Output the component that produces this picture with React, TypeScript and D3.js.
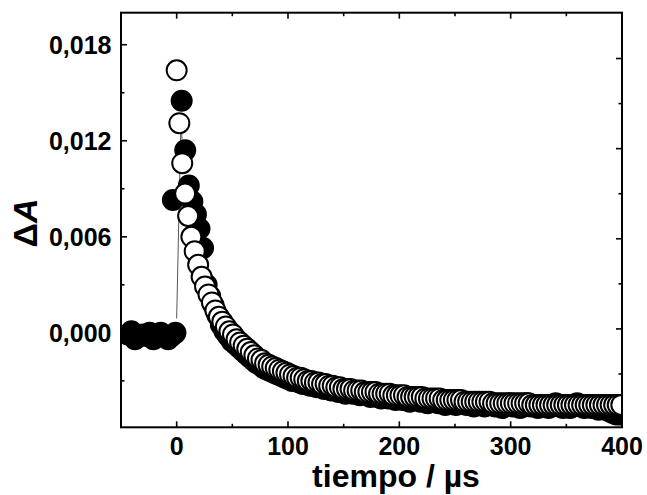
import React from "react";
import * as d3 from "d3";

const W = 647;
const H = 495;

// axis ticks
const xMajorTicks = [0, 100, 200, 300, 400];
const xMinorTicks = [-50, 50, 150, 250, 350];
const yMajorTicks = [0, 0.006, 0.012, 0.018];
const yMajorLabels = ["0,000", "0,006", "0,012", "0,018"];
const yMinorTicks = [-0.003, 0.003, 0.009, 0.015];
const rightTicks = [-0.006, -0.003, 0, 0.003, 0.006, 0.009, 0.012, 0.015, 0.018];
const rightMajor = [-0.006, 0, 0.006, 0.012, 0.018];

const xTitle = "tiempo / µs";

// thin guide line at the laser pulse
const pulseLine: [number, number][] = [
  [0, 0.0009],
  [3.8, 0.0131],
  [6.0, 0.011],
];

// filled circles: pre-trigger baseline
const filledPre: [number, number][] = [
  [-44, -0.0001], [-40.7, 0.0001], [-37.4, -0.0004], [-34.1, -0.0002], [-30.8, -0.0001],
  [-27.5, -0.0002], [-24.2, 0.0], [-20.9, -0.0004], [-17.6, -0.0002], [-14.3, 0.0],
  [-11.0, -0.0002], [-7.7, -0.0004], [-4.4, -0.0002], [-1.1, 0.0], [-3.4, 0.0083],
];

// filled circles: after the pulse
const filledPost: [number, number][] = [
  [4.5, 0.0145], [7.7, 0.0114], [10.9, 0.0092], [14.1, 0.0082], [17.3, 0.0074],
  [20.5, 0.0065], [23.7, 0.0053], [26.9, 0.003], [30.1, 0.0023], [33.3, 0.0017],
  [36.5, 0.0011], [39.7, 0.0005], [42.9, 0.0001], [46.1, -0.0002], [49.3, -0.0005],
  [52.5, -0.0007], [55.7, -0.0009], [58.9, -0.0011], [62.1, -0.0013], [65.3, -0.0015],
  [68.5, -0.0017], [71.7, -0.0019], [74.9, -0.002], [78.1, -0.0022], [81.3, -0.0023],
  [84.5, -0.0024], [87.7, -0.0025], [90.9, -0.0026], [94.1, -0.0027], [97.3, -0.0028],
  [100.5, -0.0029], [103.7, -0.003], [106.9, -0.0029], [110.1, -0.0031], [113.3, -0.0032],
  [116.5, -0.0031], [119.7, -0.0033], [122.9, -0.0033], [126.1, -0.0034], [129.3, -0.0034],
  [132.5, -0.0035], [135.7, -0.0034], [138.9, -0.0036], [142.1, -0.0035], [145.3, -0.0037],
  [148.5, -0.0036], [151.7, -0.0038], [154.9, -0.0037], [158.1, -0.0038], [161.3, -0.0037],
  [164.5, -0.0039], [167.7, -0.0038], [170.9, -0.0039], [174.1, -0.004], [177.3, -0.0039],
  [180.5, -0.004], [183.7, -0.0041], [186.9, -0.004], [190.1, -0.0041], [193.3, -0.004],
  [196.5, -0.0042], [199.7, -0.0041], [202.9, -0.0042], [206.1, -0.0041], [209.3, -0.0043],
  [212.5, -0.0042], [215.7, -0.0041], [218.9, -0.0043], [222.1, -0.0042], [225.3, -0.0044],
  [228.5, -0.0043], [231.7, -0.0042], [234.9, -0.0044], [238.1, -0.0043], [241.3, -0.0045],
  [244.5, -0.0044], [247.7, -0.0043], [250.9, -0.0045], [254.1, -0.0044], [257.3, -0.0043],
  [260.5, -0.0045], [263.7, -0.0044], [266.9, -0.0046], [270.1, -0.0045], [273.3, -0.0044],
  [276.5, -0.0046], [279.7, -0.0045], [282.9, -0.0044], [286.1, -0.0046], [289.3, -0.0045],
  [292.5, -0.0047], [295.7, -0.0045], [298.9, -0.0044], [302.1, -0.0046], [305.3, -0.0045],
  [308.5, -0.0047], [311.7, -0.0046], [314.9, -0.0044], [318.1, -0.0046], [321.3, -0.0045],
  [324.5, -0.0047], [327.7, -0.0046], [330.9, -0.0045], [334.1, -0.0047], [337.3, -0.0046],
  [340.5, -0.0044], [343.7, -0.0046], [346.9, -0.0047], [350.1, -0.0045], [353.3, -0.0047],
  [356.5, -0.0046], [359.7, -0.0044], [362.9, -0.0046], [366.1, -0.0047], [369.3, -0.0045],
  [372.5, -0.0047], [375.7, -0.0046], [378.9, -0.0048], [382.1, -0.0047], [385.3, -0.0048],
  [388.5, -0.0049], [391.7, -0.005], [394.9, -0.0051], [398.1, -0.0051],
];

// open circles
const openSeries: [number, number][] = [
  [0, 0.0164], [2.4, 0.0131], [5.0, 0.0106], [7.6, 0.0087], [10.3, 0.0073], [13.2, 0.006],
  [16.2, 0.0051], [19.3, 0.00425], [22.4, 0.0035], [25.5, 0.0029], [28.6, 0.0024], [31.7, 0.0019],
  [34.8, 0.0014], [37.9, 0.001], [41.0, 0.0007], [44.2, 0.0004], [47.4, 0.0001],
  [50.6, -0.0001], [53.8, -0.0004], [57.0, -0.0006], [60.2, -0.0008], [63.4, -0.001],
  [66.6, -0.0012], [69.8, -0.0014], [73.0, -0.0016], [76.2, -0.0017], [79.4, -0.0019],
  [82.6, -0.002], [85.8, -0.0021], [89.0, -0.0022], [92.2, -0.0023], [95.4, -0.0024],
  [98.6, -0.0025], [101.8, -0.0026], [105.0, -0.0027], [108.2, -0.0028], [111.4, -0.0028],
  [114.6, -0.0029], [117.8, -0.003], [121.0, -0.003], [124.2, -0.0031], [127.4, -0.0031],
  [130.6, -0.0032], [133.8, -0.0032], [137.0, -0.0033], [140.2, -0.0033], [143.4, -0.0034],
  [146.6, -0.0034], [149.8, -0.0035], [153.0, -0.0035], [156.2, -0.0035], [159.4, -0.0036],
  [162.6, -0.0036], [165.8, -0.0036], [169.0, -0.0037], [172.2, -0.0037], [175.4, -0.0037],
  [178.6, -0.0037], [181.8, -0.0038], [185.0, -0.0038], [188.2, -0.0038], [191.4, -0.0038],
  [194.6, -0.0039], [197.8, -0.0039], [201.0, -0.0039], [204.2, -0.0039], [207.4, -0.004],
  [210.6, -0.004], [213.8, -0.004], [217.0, -0.004], [220.2, -0.004], [223.4, -0.0041],
  [226.6, -0.0041], [229.8, -0.0041], [233.0, -0.0041], [236.2, -0.0041], [239.4, -0.0042],
  [242.6, -0.0042], [245.8, -0.0042], [249.0, -0.0042], [252.2, -0.0042], [255.4, -0.0042],
  [258.6, -0.0043], [261.8, -0.0043], [265.0, -0.0043], [268.2, -0.0043], [271.4, -0.0043],
  [274.6, -0.0043], [277.8, -0.0043], [281.0, -0.0043], [284.2, -0.0044], [287.4, -0.0044],
  [290.6, -0.0044], [293.8, -0.0044], [297.0, -0.0044], [300.2, -0.0044], [303.4, -0.0044],
  [306.6, -0.0044], [309.8, -0.0044], [313.0, -0.0044], [316.2, -0.0044], [319.4, -0.0045],
  [322.6, -0.0045], [325.8, -0.0045], [329.0, -0.0045], [332.2, -0.0045], [335.4, -0.0045],
  [338.6, -0.0045], [341.8, -0.0045], [345.0, -0.0045], [348.2, -0.0045], [351.4, -0.0045],
  [354.6, -0.0045], [357.8, -0.0045], [361.0, -0.0045], [364.2, -0.0045], [367.4, -0.0045],
  [370.6, -0.0045], [373.8, -0.0045], [377.0, -0.0045], [380.2, -0.0045], [383.4, -0.0045],
  [386.6, -0.0045], [389.8, -0.0045], [393.0, -0.0045], [396.2, -0.0045], [399.4, -0.0045],
];

const FONT = "'Liberation Sans', Arial, Helvetica, sans-serif";

export default function App() {
  const left = 121;
  const right = 622;
  const top = 12.7;
  const bottom = 427.3;

  const x = d3.scaleLinear().domain([-50, 400]).range([left, right]);
  const y = d3.scaleLinear().domain([-0.0059, 0.02]).range([bottom, top]);
  const yRight = d3.scaleLinear().domain([-0.00655, 0.02105]).range([bottom, top]);

  const line = d3
    .line<[number, number]>()
    .x((d) => x(d[0]))
    .y((d) => y(d[1]));

  const r = 10;
  const majorLen = 6;
  const minorLen = 3.5;
  const filled = [...filledPre, ...filledPost];

  return (
    <svg
      width={W}
      height={H}
      viewBox={`0 0 ${W} ${H}`}
      style={{ position: "absolute", left: 0, top: 0, background: "#fff" }}
    >
      <defs>
        <clipPath id="plotClip">
          <rect x={left} y={top} width={right - left} height={bottom - top} />
        </clipPath>
      </defs>
      <rect x={0} y={0} width={W} height={H} fill="#fff" />

      <g clipPath="url(#plotClip)">
        <path d={line(pulseLine) || ""} fill="none" stroke="#555" strokeWidth={1} />
        {filled.map((d, i) => (
          <circle
            key={"f" + i}
            cx={x(d[0])}
            cy={y(d[1])}
            r={r}
            fill="#000"
            stroke="#000"
            strokeWidth={2}
          />
        ))}
        {openSeries.map((d, i) => (
          <circle
            key={"o" + i}
            cx={x(d[0])}
            cy={y(d[1])}
            r={r}
            fill="#fff"
            stroke="#000"
            strokeWidth={2}
          />
        ))}
      </g>

      {/* frame */}
      <rect
        x={left}
        y={top}
        width={right - left}
        height={bottom - top}
        fill="none"
        stroke="#000"
        strokeWidth={2}
      />

      {/* bottom & top ticks */}
      {xMajorTicks.map((t) => (
        <g key={"xm" + t}>
          <line x1={x(t)} x2={x(t)} y1={bottom} y2={bottom - majorLen} stroke="#000" strokeWidth={1.6} />
          <line x1={x(t)} x2={x(t)} y1={top} y2={top + majorLen} stroke="#000" strokeWidth={1.6} />
          <text
            x={x(t)}
            y={455}
            textAnchor="middle"
            fontFamily={FONT}
            fontWeight="bold"
            fontSize={25}
          >
            {t}
          </text>
        </g>
      ))}
      {xMinorTicks.map((t) => (
        <g key={"xn" + t}>
          <line x1={x(t)} x2={x(t)} y1={bottom} y2={bottom - minorLen} stroke="#000" strokeWidth={1.6} />
          <line x1={x(t)} x2={x(t)} y1={top} y2={top + minorLen} stroke="#000" strokeWidth={1.6} />
        </g>
      ))}

      {/* left ticks */}
      {yMajorTicks.map((t, i) => (
        <g key={"ym" + t}>
          <line x1={left} x2={left + majorLen} y1={y(t)} y2={y(t)} stroke="#000" strokeWidth={1.6} />
          <text
            x={111.5}
            y={y(t) + 9}
            textAnchor="end"
            fontFamily={FONT}
            fontWeight="bold"
            fontSize={25}
          >
            {yMajorLabels[i]}
          </text>
        </g>
      ))}
      {yMinorTicks.map((t) => (
        <line key={"yn" + t} x1={left} x2={left + minorLen} y1={y(t)} y2={y(t)} stroke="#000" strokeWidth={1.6} />
      ))}

      {/* right ticks */}
      {rightTicks.map((t) => (
        <line
          key={"yr" + t}
          x1={right}
          x2={right - (rightMajor.includes(t) ? majorLen : minorLen)}
          y1={yRight(t)}
          y2={yRight(t)}
          stroke="#000"
          strokeWidth={1.6}
        />
      ))}

      {/* axis titles */}
      <text
        x={396}
        y={487}
        textAnchor="middle"
        fontFamily={FONT}
        fontWeight="bold"
        fontSize={32}
      >
        {xTitle}
      </text>
      <text
        transform="translate(37,223) rotate(-90)"
        textAnchor="middle"
        fontFamily={FONT}
        fontWeight="bold"
        fontSize={34}
      >
        {"Δ"}
        <tspan fontStyle="italic">{"A"}</tspan>
      </text>
    </svg>
  );
}
